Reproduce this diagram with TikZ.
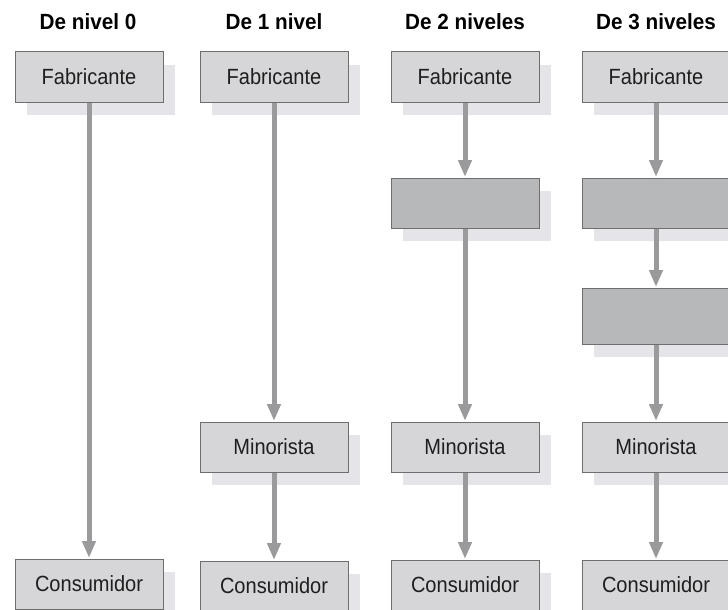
\documentclass[tikz,border=0pt]{standalone}
\usepackage{fontspec}
\newfontfamily\cond{Liberation Sans}[FakeStretch=0.91]
\newfontfamily\condb{Liberation Sans}[FakeStretch=0.94]
\usetikzlibrary{arrows.meta,shadows}
\definecolor{boxlight}{HTML}{D6D6D9}
\definecolor{boxdark}{HTML}{B7B8BA}
\definecolor{boxline}{HTML}{6E6E6E}
\definecolor{shadowc}{HTML}{E5E5E9}
\definecolor{arrowc}{HTML}{9A9A9C}
\definecolor{textc}{HTML}{1E1E1E}
\begin{document}
\begin{tikzpicture}[x=1pt,y=-1pt,
  stagebox/.style={rectangle, draw=boxline, line width=1pt, fill=boxlight,
    minimum width=148pt, minimum height=50pt, inner sep=0pt,
    text=textc, font=\cond\fontsize{22}{25}\selectfont,
    general shadow={shadow xshift=12pt, shadow yshift=-13pt, fill=shadowc}},
  darkbox/.style={stagebox, fill=boxdark},
  title/.style={font=\condb\bfseries\fontsize{22}{25}\selectfont, text=black, inner sep=0pt},
  flow/.style={draw=arrowc, line width=5pt, -{Triangle[length=17pt,width=13pt]}, shorten >=0.5pt}
]
\useasboundingbox (0,0) rectangle (728,610);
\clip (0,0) rectangle (728,610);
\fill[white] (0,0) rectangle (728,610);

% titles
\node[title] (t0) at (88,22) {De nivel 0};
\node[title] (t1) at (274,22) {De 1 nivel};
\node[title] (t2) at (465,22) {De 2 niveles};
\node[title] (t3) at (656,22) {De 3 niveles};

% column 0
\node[stagebox] (f0) at (89,77) {Fabricante};
\node[stagebox] (c0) at (89,584) {Consumidor};

% column 1
\node[stagebox] (f1) at (274,77) {Fabricante};
\node[stagebox] (m1) at (274,447) {Minorista};
\node[stagebox] (c1) at (274,586) {Consumidor};

% column 2
\node[stagebox] (f2) at (465,77) {Fabricante};
\node[darkbox] (g2) at (465,203) {};
\node[stagebox] (m2) at (465,447) {Minorista};
\node[stagebox] (c2) at (465,585) {Consumidor};

% column 3
\node[stagebox] (f3) at (656,77) {Fabricante};
\node[darkbox] (g3) at (656,203) {};
\node[darkbox, minimum height=56pt] (h3) at (656,316) {};
\node[stagebox] (m3) at (656,447) {Minorista};
\node[stagebox] (c3) at (656,585) {Consumidor};

% connectors
\draw[flow] (f0.south) -- (c0.north);
\draw[flow] (f1.south) -- (m1.north);
\draw[flow] (m1.south) -- (c1.north);
\draw[flow] (f2.south) -- (g2.north);
\draw[flow] (g2.south) -- (m2.north);
\draw[flow] (m2.south) -- (c2.north);
\draw[flow] (f3.south) -- (g3.north);
\draw[flow] (g3.south) -- (h3.north);
\draw[flow] (h3.south) -- (m3.north);
\draw[flow] (m3.south) -- (c3.north);
\end{tikzpicture}
\end{document}
